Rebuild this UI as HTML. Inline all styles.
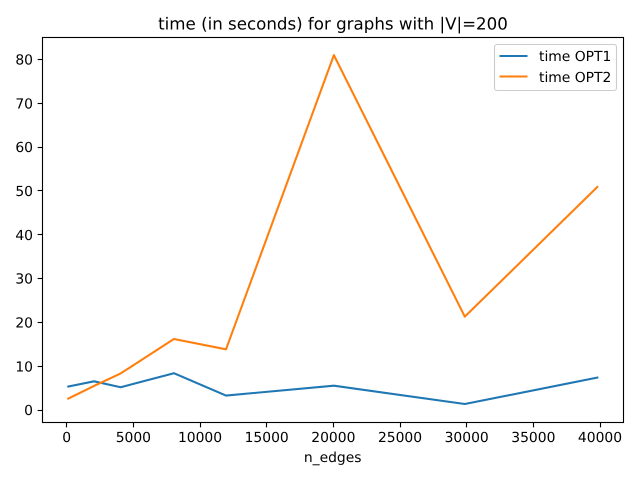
<!DOCTYPE html>
<html>
<head>
<meta charset="utf-8">
<title>time (in seconds) for graphs with |V|=200</title>
<style>
html,body{margin:0;padding:0;background:#fff;}
svg{display:block;}
text{font-family:"DejaVu Sans",sans-serif;fill:#000;text-rendering:geometricPrecision;}
</style>
</head>
<body>
<svg id="chart" xmlns="http://www.w3.org/2000/svg" width="640" height="480" viewBox="0 0 640 480">
<rect x="0" y="0" width="640" height="480" fill="#ffffff"/>
<text x="333" y="29.5" font-size="16.67" text-anchor="middle">time (in seconds) for graphs with |V|=200</text>
<text x="332.7" y="462" font-size="13.89" text-anchor="middle">n_edges</text>
<g id="plot"></g>
<g>
<rect x="494.5" y="44.5" width="122" height="46" rx="2.5" ry="2.5" fill="#ffffff" fill-opacity="0.8" stroke="#cccccc" stroke-width="1.1"/>
<line x1="499.5" y1="56" x2="527.5" y2="56" stroke="#1f77b4" stroke-width="2.08"/>
<text x="539" y="61" font-size="13.89">time OPT1</text>
<line x1="499.5" y1="76.5" x2="527.5" y2="76.5" stroke="#ff7f0e" stroke-width="2.08"/>
<text x="539" y="82" font-size="13.89">time OPT2</text>
</g>
</svg>
<script>
const nEdges = [120, 2050, 4050, 8040, 11950, 20040, 29860, 39800];
const timeOpt1 = [5.35, 6.55, 5.2, 8.4, 3.3, 5.55, 1.37, 7.4];
const timeOpt2 = [2.6, 5.5, 8.35, 16.2, 13.85, 81.0, 21.3, 50.9];
const xTickValues = [0, 5000, 10000, 15000, 20000, 25000, 30000, 35000, 40000];
const yTickValues = [0, 10, 20, 30, 40, 50, 60, 70, 80];

const NS = 'http://www.w3.org/2000/svg';
const plot = document.getElementById('plot');
const left = 42.5, right = 623.5, top_ = 37.5, bottom = 422.5;
function xScale(v) { return 66.7 + v * (600 - 66.7) / 40000; }
function yScale(v) { return 410 - v * (410 - 59.5) / 80; }
function make(tag, attrs, parent) {
  const el = document.createElementNS(NS, tag);
  for (const k in attrs) el.setAttribute(k, attrs[k]);
  parent.appendChild(el);
  return el;
}
function drawSeries(values, color, name) {
  const pts = values.map(function (v, i) { return xScale(nEdges[i]).toFixed(2) + ',' + yScale(v).toFixed(2); }).join(' ');
  const el = make('polyline', { points: pts, fill: 'none', stroke: color, 'stroke-width': 2.08, 'stroke-linejoin': 'round', 'stroke-linecap': 'square' }, plot);
  
  
}
drawSeries(timeOpt1, '#1f77b4', 'series-time-opt1');
drawSeries(timeOpt2, '#ff7f0e', 'series-time-opt2');

xTickValues.forEach(function (v) {
  const x = Math.round(xScale(v) - 0.5) + 0.5;
  const tick = make('line', { x1: x, x2: x, y1: bottom, y2: bottom + 4.86, stroke: '#000', 'stroke-width': 1.11 }, plot);
  
  
  const label = make('text', { x: xScale(v), y: 442, 'font-size': 13.89, 'text-anchor': 'middle' }, plot);
  label.textContent = String(v);
  
  
});
yTickValues.forEach(function (v) {
  const y = Math.round(yScale(v) - 0.5) + 0.5;
  const tick = make('line', { x1: left - 4.86, x2: left, y1: y, y2: y, stroke: '#000', 'stroke-width': 1.11 }, plot);
  
  
  const label = make('text', { x: left - 9.5, y: yScale(v) + 5.1, 'font-size': 13.89, 'text-anchor': 'end' }, plot);
  label.textContent = String(v);
  
  
});
const frame = make('rect', { x: left, y: top_, width: right - left, height: bottom - top_, fill: 'none', stroke: '#000', 'stroke-width': 1.11 }, plot);


</script>
</body>
</html>
